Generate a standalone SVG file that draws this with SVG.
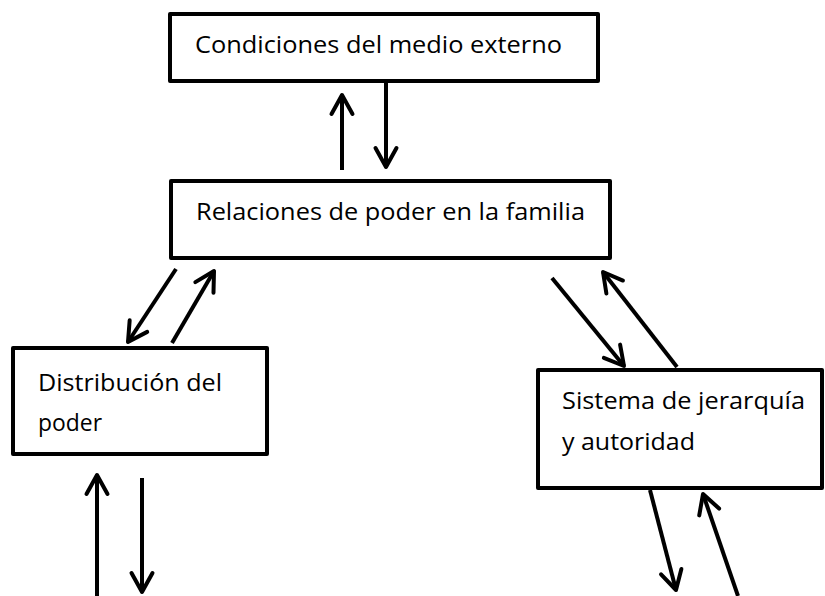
<svg xmlns="http://www.w3.org/2000/svg" width="825" height="596" viewBox="0 0 825 596">
<defs>
<style>
.box{fill:#fff;stroke:#000;stroke-width:4;stroke-linejoin:round}
.lbl{font-family:"Open Sans","Liberation Sans",sans-serif;font-size:23.5px;fill:#000}
.conn{stroke:#000;stroke-width:4;fill:none;marker-end:url(#chev)}
</style>
<marker id="chev" markerUnits="userSpaceOnUse" viewBox="-25 -15 30 30" refX="0" refY="0" markerWidth="30" markerHeight="30" orient="auto">
<path d="M -19 -10.5 L 0 0 L -19 10.5" fill="none" stroke="#000" stroke-width="4" stroke-linejoin="round" stroke-linecap="round"/>
</marker>
</defs>
<rect width="825" height="596" fill="#fff"/>
<g id="n-medio">
<rect class="box" x="170" y="14" width="428" height="67"/>
<text class="lbl" x="195" y="53" textLength="367" lengthAdjust="spacingAndGlyphs">Condiciones del medio externo</text>
</g>
<g id="n-relaciones">
<rect class="box" x="171" y="181" width="439" height="77"/>
<text class="lbl" x="196" y="220" textLength="389" lengthAdjust="spacingAndGlyphs">Relaciones de poder en la familia</text>
</g>
<g id="n-distribucion">
<rect class="box" x="13" y="348" width="254" height="106"/>
<text class="lbl" x="38" y="391" textLength="184" lengthAdjust="spacingAndGlyphs">Distribución del</text>
<text class="lbl" x="38" y="431" textLength="64" lengthAdjust="spacingAndGlyphs">poder</text>
</g>
<g id="n-sistema">
<rect class="box" x="538" y="370" width="284" height="118"/>
<text class="lbl" x="562" y="409" textLength="243" lengthAdjust="spacingAndGlyphs">Sistema de jerarquía</text>
<text class="lbl" x="562" y="450" textLength="133" lengthAdjust="spacingAndGlyphs">y autoridad</text>
</g>
<g id="connectors">
<line class="conn" x1="342" y1="170" x2="342" y2="95"/>
<line class="conn" x1="386" y1="82" x2="386" y2="167"/>
<line class="conn" x1="176" y1="269" x2="128" y2="342"/>
<line class="conn" x1="172" y1="343" x2="214" y2="271"/>
<line class="conn" x1="552" y1="278" x2="624" y2="366"/>
<line class="conn" x1="677" y1="367" x2="603" y2="272"/>
<line class="conn" x1="97" y1="596" x2="97" y2="475"/>
<line class="conn" x1="142" y1="478" x2="142" y2="592"/>
<line class="conn" x1="650" y1="490" x2="676" y2="590"/>
<line class="conn" x1="738" y1="596" x2="703" y2="494"/>
</g>
</svg>
